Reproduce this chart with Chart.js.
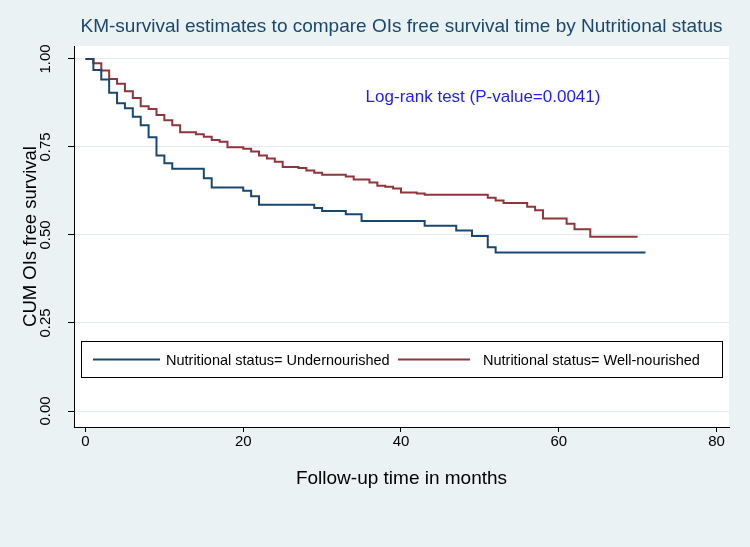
<!DOCTYPE html>
<html><head><meta charset="utf-8">
<script src="https://cdn.jsdelivr.net/npm/chart.js@4/dist/chart.umd.min.js"></script>
<style>html,body{margin:0;padding:0;background:#EAF2F3;}canvas{display:block;}</style>
</head><body>
<canvas id="c" width="750" height="547"></canvas>
<script>
// ---------- data ----------
const chartTitle = "KM-survival estimates to compare OIs free survival time by Nutritional status";
const xAxisTitle = "Follow-up time in months";
const yAxisTitle = "CUM OIs free survival";
const annotationText = "Log-rank test (P-value=0.0041)";
const seriesNames = ["Nutritional status= Undernourished", "Nutritional status= Well-nourished"];
const xTicks = [0, 20, 40, 60, 80];
const yTicks = [0, 0.25, 0.5, 0.75, 1];

const underTimes = [0, 1, 2, 3, 4, 5, 6, 7, 8, 9, 10, 11, 15, 16, 20, 21, 22, 29, 30, 33, 35, 43, 47, 49, 51, 52, 71];
const underSurv  = [1, 0.969, 0.942, 0.904, 0.874, 0.860, 0.836, 0.812, 0.778, 0.726, 0.704, 0.688, 0.661, 0.635, 0.626, 0.610, 0.586, 0.577, 0.568, 0.559, 0.540, 0.526, 0.513, 0.497, 0.465, 0.450, 0.450];

const wellTimes = [0, 1, 2, 3, 4, 5, 6, 7, 8, 9, 10, 11, 12, 14, 15, 16, 17, 18, 20, 21, 22, 23, 24, 25, 27, 28, 29, 30, 33, 34, 36, 37, 38, 39, 40, 42, 43, 51, 52, 53, 56, 57, 58, 61, 62, 64, 70];
const wellSurv  = [1, 0.988, 0.967, 0.943, 0.930, 0.908, 0.889, 0.866, 0.858, 0.841, 0.826, 0.812, 0.792, 0.786, 0.779, 0.770, 0.765, 0.749, 0.745, 0.737, 0.726, 0.717, 0.708, 0.693, 0.690, 0.683, 0.677, 0.671, 0.666, 0.658, 0.649, 0.640, 0.637, 0.632, 0.621, 0.618, 0.614, 0.606, 0.598, 0.591, 0.580, 0.570, 0.547, 0.532, 0.516, 0.495, 0.495];

// ---------- styling ----------
const FONT = '"Liberation Sans", Arial, Helvetica, sans-serif';
const BLUE = '#1A476F';
const RED = '#90353B';
const BG = '#EAF2F3';

const toXY = (xs, ys) => xs.map((x, i) => ({x: x, y: ys[i]}));

const decorPlugin = {
  id: 'decor',
  beforeDraw(chart) {
    const {ctx, chartArea: a} = chart;
    ctx.save();
    ctx.fillStyle = BG;
    ctx.fillRect(0, 0, chart.width, chart.height);
    ctx.fillStyle = '#FFFFFF';
    ctx.fillRect(a.left, a.top, a.right - a.left, a.bottom - a.top);
    ctx.restore();
  },
  afterDraw(chart) {
    const {ctx, chartArea: a, scales} = chart;
    ctx.save();
    // title
    ctx.fillStyle = BLUE;
    ctx.font = '19px ' + FONT;
    ctx.textAlign = 'center';
    ctx.textBaseline = 'middle';
    ctx.fillText(chartTitle, (a.left + a.right) / 2, 27);
    // rotated y tick labels
    ctx.fillStyle = '#000';
    ctx.font = '15px ' + FONT;
    yTicks.forEach(v => {
      const py = scales.y.getPixelForValue(v);
      ctx.save();
      ctx.translate(46, py);
      ctx.rotate(-Math.PI / 2);
      ctx.fillText(v.toFixed(2), 0, 0);
      ctx.restore();
    });
    // annotation
    ctx.fillStyle = '#1E1EF0';
    ctx.font = '17px ' + FONT;
    ctx.fillText(annotationText, scales.x.getPixelForValue(50.4), scales.y.getPixelForValue(0.892));
    // legend
    const L = 81, T = 341, R = 723, B = 378;
    ctx.fillStyle = '#fff';
    ctx.fillRect(L, T, R - L, B - T);
    ctx.strokeStyle = '#000';
    ctx.lineWidth = 1;
    ctx.strokeRect(L + 0.5, T + 0.5, R - L - 1, B - T - 1);
    const my = (T + B) / 2;
    const items = [
      {color: BLUE, x0: 93, x1: 160, tx: 166, text: chart.data.datasets[0].label},
      {color: RED, x0: 398, x1: 470, tx: 483, text: chart.data.datasets[1].label}
    ];
    ctx.font = '14.5px ' + FONT;
    ctx.textAlign = 'left';
    items.forEach(it => {
      ctx.strokeStyle = it.color;
      ctx.lineWidth = 2;
      ctx.beginPath();
      ctx.moveTo(it.x0, my);
      ctx.lineTo(it.x1, my);
      ctx.stroke();
      ctx.fillStyle = '#000';
      ctx.fillText(it.text, it.tx, my + 1);
    });
    ctx.restore();
  }
};

new Chart(document.getElementById('c'), {
  type: 'line',
  data: {
    datasets: [
      {label: seriesNames[0], data: toXY(underTimes, underSurv), borderColor: BLUE, borderWidth: 2, pointRadius: 0, stepped: 'before', fill: false},
      {label: seriesNames[1], data: toXY(wellTimes, wellSurv), borderColor: RED, borderWidth: 2, pointRadius: 0, stepped: 'before', fill: false}
    ]
  },
  options: {
    responsive: false,
    animation: false,
    devicePixelRatio: 1,
    layout: {padding: {left: 0, right: 21, top: 46, bottom: 0}},
    plugins: {legend: {display: false}, title: {display: false}, tooltip: {enabled: false}},
    scales: {
      x: {
        type: 'linear',
        min: -1.458, max: 81.585,
        afterBuildTicks: s => { s.ticks = xTicks.map(v => ({value: v})); },
        afterFit: s => { s.height = 120; },
        grid: {drawOnChartArea: false, tickLength: 5, tickColor: '#000'},
        border: {display: true, color: '#000', width: 1},
        ticks: {color: '#000', font: {family: FONT, size: 15}, padding: 1, maxRotation: 0, autoSkip: false},
        title: {display: true, text: xAxisTitle, color: '#000', font: {family: FONT, size: 19}, padding: {top: 0, bottom: 57}}
      },
      y: {
        type: 'linear',
        min: -0.04545, max: 1.0369,
        afterBuildTicks: s => { s.ticks = yTicks.map(v => ({value: v})); },
        afterFit: s => { s.width = 74; },
        grid: {color: '#E2ECEE', lineWidth: 1, tickLength: 6, tickColor: '#000'},
        border: {display: true, color: '#000', width: 1},
        ticks: {display: false},
        title: {display: true, text: yAxisTitle, color: '#000', font: {family: FONT, size: 18.5}, padding: {top: 20, bottom: 0}}
      }
    }
  },
  plugins: [decorPlugin]
});
</script>
</body></html>
